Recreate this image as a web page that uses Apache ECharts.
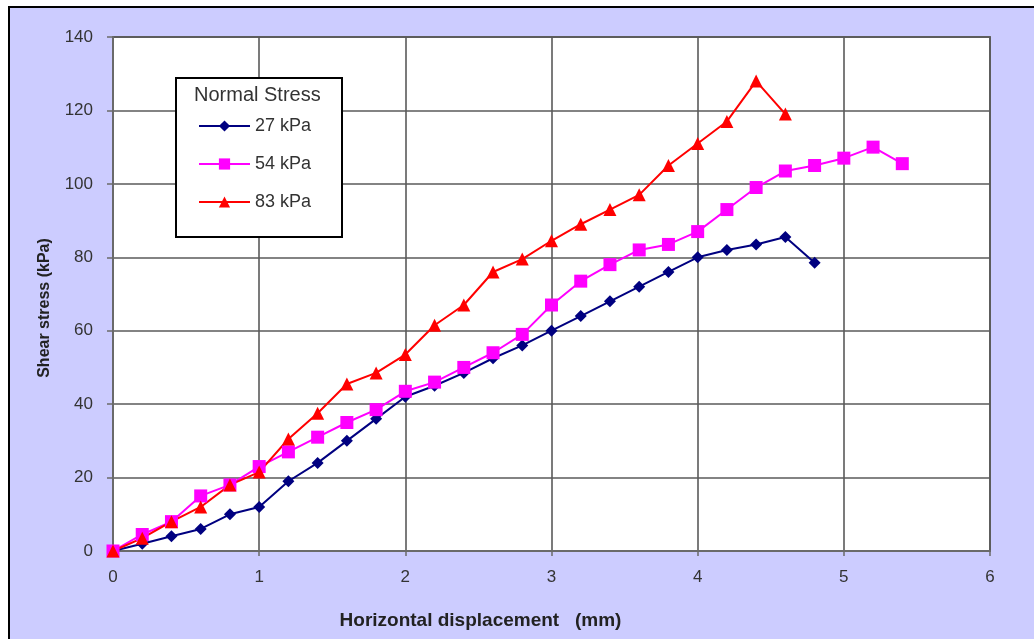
<!DOCTYPE html>
<html>
<head>
<meta charset="utf-8">
<title>Shear stress vs horizontal displacement</title>
<script src="https://cdn.jsdelivr.net/npm/echarts@6/dist/echarts.min.js"></script>
<style>
  html, body { margin: 0; padding: 0; background: #ffffff; }
  #frame {
    position: absolute; left: 8px; top: 6px; width: 1026px; height: 633px;
    box-sizing: border-box; border-left: 2px solid #000; border-top: 2px solid #000;
    background: #ccccff;
  }
  #chart { position: absolute; left: 0; top: 0; width: 1034px; height: 639px; }
</style>
</head>
<body>
<div id="frame"></div>
<div id="chart"></div>
<script>
// Horizontal displacement (mm), sampled every 0.2 mm
const displacement = [0, 0.2, 0.4, 0.6, 0.8, 1.0, 1.2, 1.4, 1.6, 1.8, 2.0, 2.2, 2.4, 2.6,
  2.8, 3.0, 3.2, 3.4, 3.6, 3.8, 4.0, 4.2, 4.4, 4.6, 4.8, 5.0, 5.2, 5.4];

// Shear stress (kPa) for each normal stress
const shear27 = [0, 2, 4, 6, 10, 12, 19, 24, 30, 36, 42, 45, 48.5, 52.5,
  56, 60, 64, 68, 72, 76, 80, 82, 83.5, 85.5, 78.5];
const shear54 = [0, 4.5, 8, 15, 18, 23, 27, 31, 35, 38.5, 43.5, 46, 50, 54,
  59, 67, 73.5, 78, 82, 83.5, 87, 93, 99, 103.5, 105, 107, 110, 105.5];
const shear83 = [0, 3.5, 8, 12, 18, 21.5, 30.5, 37.5, 45.5, 48.5, 53.5, 61.5, 67, 76,
  79.5, 84.5, 89, 93, 97, 105, 111, 117, 128, 119];

const seriesNames = ['27 kPa', '54 kPa', '83 kPa'];
const legendTitle = 'Normal Stress';
const xTitle = 'Horizontal displacement   (mm)';
const yTitle = 'Shear stress (kPa)';

function pairs(ys) {
  return ys.map((y, i) => [displacement[i], y]);
}

const font = '"Liberation Sans", Arial, sans-serif';
const chart = echarts.init(document.getElementById('chart'), null, { renderer: 'canvas' });

chart.setOption({
  backgroundColor: 'transparent',
  animation: false,
  textStyle: { fontFamily: font },
  grid: {
    left: 113, top: 37, width: 877, height: 514,
    show: true, backgroundColor: '#ffffff', borderColor: '#6a6a6a', borderWidth: 2
  },
  xAxis: {
    type: 'value', min: 0, max: 6, interval: 1,
    name: xTitle, nameLocation: 'middle', nameGap: 60,
    nameTextStyle: { fontSize: 19, fontWeight: 'bold', color: '#222', padding: [0, 142, 0, 0] },
    axisLine: { show: true, lineStyle: { color: '#6a6a6a', width: 2 } },
    axisTick: { show: true, length: 5, lineStyle: { color: '#6a6a6a', width: 1.5 } },
    axisLabel: { fontSize: 17, color: '#333', margin: 18 },
    splitLine: { show: true, lineStyle: { color: '#5a5a5a', width: 1.6 } }
  },
  yAxis: {
    type: 'value', min: 0, max: 140, interval: 20,
    name: yTitle, nameLocation: 'middle', nameGap: 60,
    nameTextStyle: { fontSize: 16, fontWeight: 'bold', color: '#222', padding: [0, 28, 0, 0] },
    axisLine: { show: true, lineStyle: { color: '#6a6a6a', width: 2 } },
    axisTick: { show: true, length: 6, lineStyle: { color: '#6a6a6a', width: 1.5 } },
    axisLabel: { fontSize: 17, color: '#333', margin: 20 },
    splitLine: { show: true, lineStyle: { color: '#5a5a5a', width: 1.6 } }
  },
  legend: {
    orient: 'vertical', left: 193, top: 112, z: 10,
    itemWidth: 51, itemHeight: 14, itemGap: 20,
    textStyle: { fontSize: 18, color: '#333', fontFamily: font },
    data: seriesNames
  },
  graphic: [
    {
      type: 'rect', z: 5, left: 175, top: 77,
      shape: { width: 166, height: 159 },
      style: { fill: '#ffffff', stroke: '#000', lineWidth: 2 }
    },
    {
      type: 'text', z: 6, left: 194, top: 85,
      style: { text: legendTitle, fontSize: 20, fill: '#333', fontFamily: font }
    }
  ],
  series: [
    {
      name: seriesNames[0], type: 'line', data: pairs(shear27),
      symbol: 'diamond', symbolSize: 12,
      lineStyle: { color: '#000080', width: 2 },
      itemStyle: { color: '#000080' }
    },
    {
      name: seriesNames[1], type: 'line', data: pairs(shear54),
      symbol: 'rect', symbolSize: 13,
      lineStyle: { color: '#ff00ff', width: 2 },
      itemStyle: { color: '#ff00ff' }
    },
    {
      name: seriesNames[2], type: 'line', data: pairs(shear83),
      symbol: 'triangle', symbolSize: 13,
      lineStyle: { color: '#ff0000', width: 2 },
      itemStyle: { color: '#ff0000' }
    }
  ]
});
</script>
</body>
</html>
